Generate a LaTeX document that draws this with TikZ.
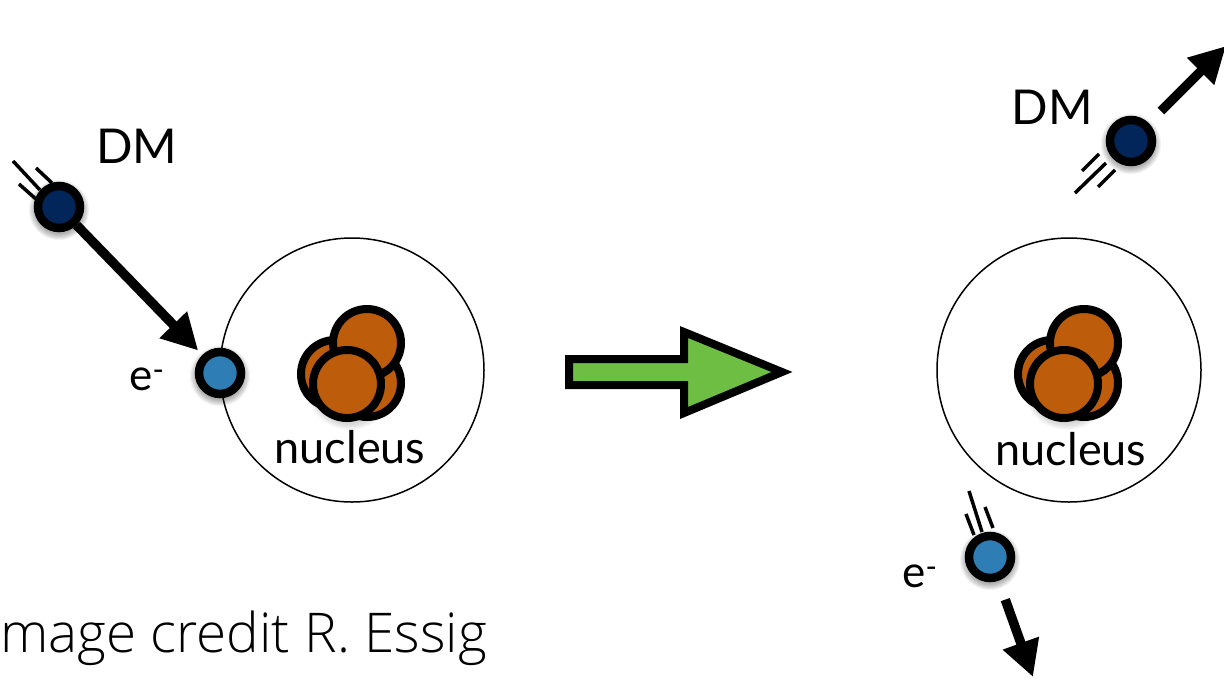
\documentclass[tikz,border=0pt]{standalone}
\usepackage{fontspec}
\setmainfont{Lato}
\newfontfamily\creditfont{Open Sans Light}
\usetikzlibrary{arrows.meta}
\definecolor{dmnavy}{HTML}{02265A}
\definecolor{eblue}{HTML}{2E7DB4}
\definecolor{nucorange}{HTML}{BD5D0C}
\definecolor{arrowgreen}{HTML}{6EBE44}
\tikzset{
  particle/.style={circle,draw=black,line width=8.5pt,minimum size=42pt,inner sep=0pt},
  dmparticle/.style={particle,fill=dmnavy},
  eparticle/.style={particle,fill=eblue},
  nucleon/.style={circle,draw=black,line width=8pt,minimum size=68pt,inner sep=0pt,fill=nucorange},
  atomshell/.style={circle,draw=black,line width=1.5pt,minimum size=264pt,inner sep=0pt},
  trail/.style={draw=black,line width=3.5pt},
  motion/.style={draw=black,line width=9.5pt,-{Triangle[length=36pt,width=36pt]}},
  biglabel/.style={font=\fontsize{48}{48}\selectfont,anchor=base,inner sep=0pt},
  smalllabel/.style={font=\fontsize{45}{45}\selectfont,anchor=base,inner sep=0pt},
  electronlabel/.style={font=\fontsize{44}{44}\selectfont,anchor=base,inner sep=0pt},
}
% soft drop shadow: stacked translucent discs below a circle
\newcommand{\softshadow}[4][0.05]{%
  \foreach \d in {0,1,...,6}{
    \fill[black,opacity=#1] (#2,#3+3) circle[radius=#4+\d];
  }}
% cluster of four nucleons around a reference point
\newcommand{\nucleons}[3]{%
  \softshadow[0.025]{#1-2}{#2+13}{38}
  \node[nucleon] (#3a) at (#1-17,#2+4) {};
  \node[nucleon] (#3b) at (#1+15,#2+13) {};
  \node[nucleon] (#3c) at (#1+15,#2-27) {};
  \node[nucleon] (#3d) at (#1-5,#2+14) {};
}
\begin{document}
\begin{tikzpicture}[x=1pt,y=-1pt]
\useasboundingbox (0,0) rectangle (1224,678);
\clip (0,0) rectangle (1224,678);

% atom before the collision
\node[atomshell] (shellL) at (352,370) {};
\nucleons{352}{370}{nucL}
\node[smalllabel] (nucleusL) at (350,463) {nucleus};

% incoming dark matter particle and its speed lines
\draw[trail] (13,161) -- (40,190);
\draw[trail] (36,168) -- (52,183);
\draw[trail] (19,184) -- (37,200);
\softshadow{59}{207}{24}
\softshadow{220}{373}{24}
\node[dmparticle] (dmL) at (59,207) {};
\node[eparticle] (eL) at (220,373) {};
\draw[motion,shorten >=6pt] (dmL) -- (eL);
\node[biglabel] (dmtextL) at (137,163) {DM};
\node[electronlabel] (etextL) at (147,390) {e\textsuperscript{-}};

% transition arrow
\draw[draw=black,fill=arrowgreen,line width=8pt,miter limit=10]
  (569,359) -- (684,359) -- (684,332) -- (782,372) -- (684,413) -- (684,385) -- (569,385) -- cycle;

% atom after the collision
\node[atomshell] (shellR) at (1069,370) {};
\nucleons{1069}{370}{nucR}
\node[smalllabel] (nucleusR) at (1071,465) {nucleus};

% outgoing dark matter particle
\draw[trail] (1075,193) -- (1106,163);
\draw[trail] (1082,171) -- (1099,154);
\draw[trail] (1098,187) -- (1115,170);
\softshadow{1131}{141}{24}
\node[dmparticle] (dmR) at (1131,141) {};
\coordinate (dmRend) at (1226,46);
\draw[motion,shorten <=17pt] (dmR) -- (dmRend);
\node[biglabel] (dmtextR) at (1052,124) {DM};

% ejected electron
\draw[trail] (969,491) -- (982,532);
\draw[trail] (966,514) -- (974,535);
\draw[trail] (985,507) -- (993,528);
\softshadow{990}{557}{24}
\node[eparticle] (eR) at (990,557) {};
\coordinate (eRend) at (1033,677);
\draw[motion,shorten <=20pt] (eR) -- (eRend);
\node[electronlabel] (etextR) at (920,587) {e\textsuperscript{-}};

% credit line
\node[anchor=base west,inner sep=0pt,font=\creditfont\fontsize{54.8}{54.8}\selectfont] (credit) at (0,652) {mage credit R. Essig};
\end{tikzpicture}
\end{document}
